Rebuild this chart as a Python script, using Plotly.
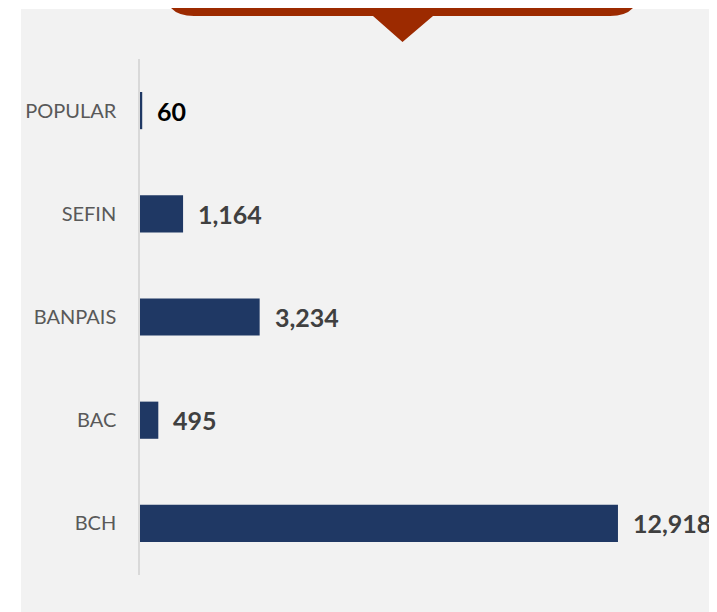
import plotly.graph_objects as go

categories = ["POPULAR", "SEFIN", "BANPAIS", "BAC", "BCH"]
values = [60, 1164, 3234, 495, 12918]
value_labels = ["60", "1,164", "3,234", "495", "12,918"]
label_colors = ["#000000", "#404040", "#404040", "#404040", "#404040"]

OFF = 8  # page body margin
W, H = 717 - OFF, 612 - OFF
# plot area on screen: x 140..700, y 59..575
L, T = 140 - OFF, 59 - OFF
R, B = W - (700 - OFF), H - (575 - OFF)
PW, PH = W - L - R, H - T - B


def px(x):
    return (x - OFF - L) / PW


def py(y):
    return (H - B - (y - OFF)) / PH


fig = go.Figure()
fig.add_trace(go.Bar(
    y=categories, x=values, orientation="h",
    marker=dict(color="#1F3864", line=dict(width=0)),
    width=0.36, hoverinfo="skip",
))

for c, v, t, col in zip(categories, values, value_labels, label_colors):
    fig.add_annotation(x=v, y=c, text=f"<b>{t}</b>", showarrow=False,
                       xanchor="left", xshift=13,
                       font=dict(family="Lato", size=25, color=col))

# Background panel
shapes = [dict(type="rect", xref="paper", yref="paper", layer="below",
               x0=px(21), x1=px(760), y0=py(660), y1=py(9),
               fillcolor="#F2F2F2", line=dict(width=0))]

# Callout
x0, x1, yb, ytop, r = 164, 640, 16, -40, 30
pts = [
    f"M{px(x0)},{py(ytop)}",
    f"L{px(x0)},{py(yb - r)}",
    f"Q{px(x0)},{py(yb)} {px(x0 + r)},{py(yb)}",
    f"L{px(373)},{py(yb)}",
    f"L{px(402.5)},{py(42)}",
    f"L{px(433)},{py(yb)}",
    f"L{px(x1 - r)},{py(yb)}",
    f"Q{px(x1)},{py(yb)} {px(x1)},{py(yb - r)}",
    f"L{px(x1)},{py(ytop)}",
    "Z",
]
shapes.append(dict(type="path", xref="paper", yref="paper", layer="above",
                   path=" ".join(pts), fillcolor="#9C2A00", line=dict(width=0)))

fig.update_layout(
    width=W, height=H,
    margin=dict(l=L, r=R, t=T, b=B),
    paper_bgcolor="#FFFFFF", plot_bgcolor="rgba(0,0,0,0)",
    showlegend=False, shapes=shapes,
    xaxis=dict(range=[0, PW / 0.037], visible=False, fixedrange=True),
    yaxis=dict(autorange="reversed", showline=True, linecolor="#D9D9D9", linewidth=1.5,
               showgrid=False, zeroline=False, ticks="", ticklabelstandoff=18,
               tickfont=dict(family="Lato", size=20, color="#595959")),
)

fig.write_html("out.html")
